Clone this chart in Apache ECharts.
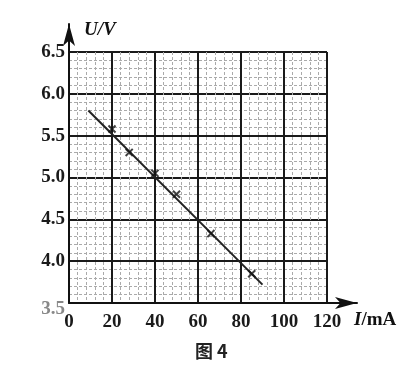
<!DOCTYPE html>
<html>
<head>
<meta charset="utf-8">
<script src="https://cdn.jsdelivr.net/npm/echarts@6/dist/echarts.min.js"></script>
<style>
  html, body { margin: 0; padding: 0; background: #fff; }
  #chart { width: 403px; height: 372px; }
</style>
</head>
<body>
<div id="chart"></div>
<script>
// measured points (I in mA, U in V)
const currents = [20, 28, 40, 50, 66, 85];
const voltages = [5.58, 5.30, 5.05, 4.80, 4.33, 3.85];
// fitted straight line ends
const fitI = [9, 90];
const fitU = [5.80, 3.72];
const xTicks = [0, 20, 40, 60, 80, 100, 120];
const yTicks = [3.5, 4.0, 4.5, 5.0, 5.5, 6.0, 6.5];

const serif = 'Liberation Serif';
const crossPath = 'path://M4,0H6V4H10V6H6V10H4V6H0V4H4Z';

const chart = echarts.init(document.getElementById('chart'));

const option = {
  backgroundColor: '#fff',
  animation: false,
  grid: [
    { left: 69, top: 52, width: 258, height: 251 },
    { left: 69, top: 24, right: 46, bottom: 69 }
  ],
  xAxis: [
    {
      gridIndex: 0, type: 'value', min: 0, max: 120, interval: 20,
      axisLine: { show: false },
      axisTick: { show: false },
      axisLabel: {
        margin: 10, color: '#1a1a1a', fontFamily: serif, fontWeight: 'bold', fontSize: 19,
        formatter: v => xTicks.includes(v) ? String(v) : ''
      },
      splitLine: { show: true, lineStyle: { color: '#1a1a1a', width: 2 } },
      minorTick: { show: false, splitNumber: 5 },
      minorSplitLine: { show: true, lineStyle: { color: '#aaa', width: 1, type: [3, 2] } }
    },
    {
      gridIndex: 1, type: 'value', min: 0, max: 1,
      axisLine: { show: true, lineStyle: { color: '#111', width: 2 }, symbol: ['none', 'arrow'], symbolSize: [9, 22] },
      axisTick: { show: false }, axisLabel: { show: false }, splitLine: { show: false }
    }
  ],
  yAxis: [
    {
      gridIndex: 0, type: 'value', min: 3.5, max: 6.5, interval: 0.5,
      axisLine: { show: false },
      axisTick: { show: false },
      axisLabel: {
        margin: 4, fontFamily: serif, fontWeight: 'bold', fontSize: 19,
        formatter: v => {
          const t = yTicks.find(y => Math.abs(y - v) < 1e-6);
          if (t === undefined) return '';
          return t === 3.5 ? '{g|3.5}' : t.toFixed(1);
        },
        color: '#1a1a1a',
        rich: { g: { color: '#888', fontFamily: serif, fontWeight: 'bold', fontSize: 19, padding: [12, 0, 0, 0] } }
      },
      splitLine: { show: true, lineStyle: { color: '#1a1a1a', width: 2 } },
      minorTick: { show: false, splitNumber: 5 },
      minorSplitLine: { show: true, lineStyle: { color: '#aaa', width: 1, type: [3, 2] } }
    },
    {
      gridIndex: 1, type: 'value', min: 0, max: 1,
      axisLine: { show: true, lineStyle: { color: '#111', width: 2 }, symbol: ['none', 'arrow'], symbolSize: [9, 22] },
      axisTick: { show: false }, axisLabel: { show: false }, splitLine: { show: false }
    }
  ],
  series: [
    {
      type: 'line',
      xAxisIndex: 0, yAxisIndex: 0,
      data: fitI.map((x, i) => [x, fitU[i]]),
      showSymbol: false,
      lineStyle: { color: '#222', width: 2 },
      z: 3
    },
    {
      type: 'scatter',
      xAxisIndex: 0, yAxisIndex: 0,
      data: currents.map((x, i) => [x, voltages[i]]),
      symbol: crossPath,
      symbolSize: 10,
      symbolRotate: 45,
      itemStyle: { color: '#111' },
      z: 4
    }
  ],
  graphic: [
    {
      type: 'text', left: 84, top: 21,
      style: {
        text: '{i|U/V}',
        rich: {
          i: { fontFamily: serif, fontStyle: 'italic', fontWeight: 'bold', fontSize: 19, fill: '#111' }
        }
      }
    },
    {
      type: 'text', left: 354, top: 311,
      style: {
        text: '{i|I}{n|/mA}',
        rich: {
          i: { fontFamily: serif, fontStyle: 'italic', fontWeight: 'bold', fontSize: 19, fill: '#111' },
          n: { fontFamily: serif, fontWeight: 'bold', fontSize: 19, fill: '#111' }
        }
      }
    },
    {
      type: 'text', left: 195, top: 342,
      style: { text: '图 4', font: 'bold 18px "Noto Sans CJK SC"', fill: '#222' }
    }
  ]
};

chart.setOption(option);
</script>
</body>
</html>
